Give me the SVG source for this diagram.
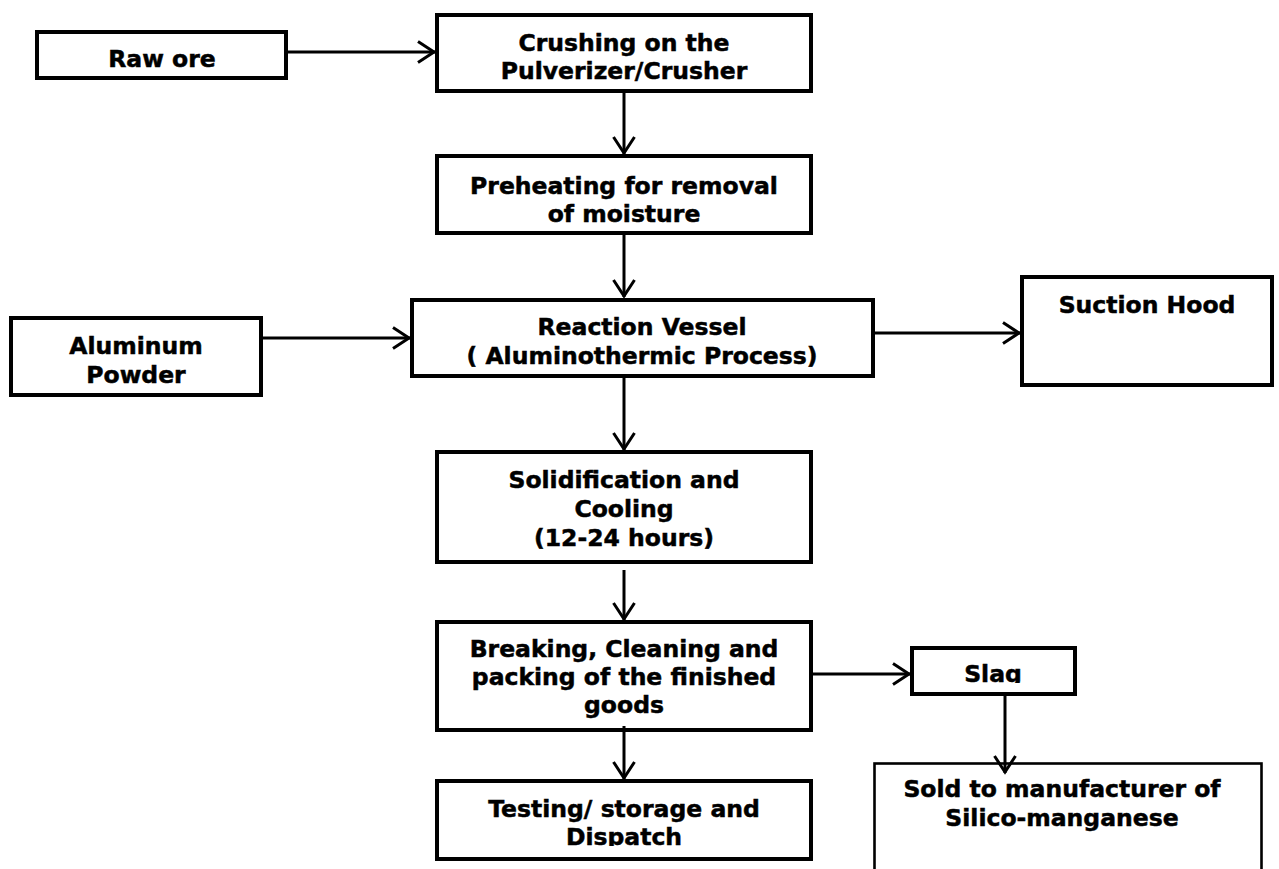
<svg xmlns="http://www.w3.org/2000/svg" width="1279" height="869" viewBox="0 0 1279 869">
<style>
.box{fill:#fff;stroke:#000;stroke-width:4}
.thin{fill:#fff;stroke:#000;stroke-width:2.6}
.t{font-family:"DejaVu Sans",Verdana,sans-serif;font-weight:bold;font-size:23.5px;fill:#000;stroke:#000;stroke-width:0.5;text-anchor:middle}
.c{fill:none;stroke:#000;stroke-width:3}
</style>
<defs>
<marker id="ah" markerUnits="userSpaceOnUse" viewBox="-22 -14 24 28" markerWidth="24" markerHeight="28" refX="0" refY="0" orient="auto">
<path d="M-17,-10.5 L-1,0 L-17,10.5" fill="none" stroke="#000" stroke-width="3"/>
</marker>
<clipPath id="clipTest"><rect x="437" y="781" width="374" height="65"/></clipPath>
<clipPath id="clipSlag"><rect x="912" y="648" width="163" height="35"/></clipPath>
</defs>
<g id="raw-ore">
<rect class="box" x="37" y="32" width="249" height="46"/>
<text class="t" x="162" y="67">Raw ore</text>
</g>
<g id="crushing">
<rect class="box" x="437" y="15" width="374" height="76"/>
<text class="t" x="624" y="51">Crushing on the</text>
<text class="t" x="624" y="79">Pulverizer/Crusher</text>
</g>
<g id="preheating">
<rect class="box" x="437" y="156" width="374" height="77"/>
<text class="t" x="624" y="194">Preheating for removal</text>
<text class="t" x="624" y="222">of moisture</text>
</g>
<g id="aluminum-powder">
<rect class="box" x="11" y="318" width="250" height="77"/>
<text class="t" x="136" y="354">Aluminum</text>
<text class="t" x="136" y="383">Powder</text>
</g>
<g id="reaction-vessel">
<rect class="box" x="412" y="300" width="461" height="76"/>
<text class="t" x="642" y="335">Reaction Vessel</text>
<text class="t" x="642" y="364">( Aluminothermic Process)</text>
</g>
<g id="suction-hood">
<rect class="box" x="1022" y="277" width="250" height="108"/>
<text class="t" x="1147" y="313">Suction Hood</text>
</g>
<g id="solidification">
<rect class="box" x="437" y="452" width="374" height="110"/>
<text class="t" x="624" y="488">Solidification and</text>
<text class="t" x="624" y="517">Cooling</text>
<text class="t" x="624" y="546">(12-24 hours)</text>
</g>
<g id="breaking">
<rect class="box" x="437" y="622" width="374" height="108"/>
<text class="t" x="624" y="657">Breaking, Cleaning and</text>
<text class="t" x="624" y="685">packing of the finished</text>
<text class="t" x="624" y="713">goods</text>
</g>
<g id="testing">
<rect class="box" x="437" y="781" width="374" height="78"/>
<g clip-path="url(#clipTest)">
<text class="t" x="624" y="817">Testing/ storage and</text>
<text class="t" x="624" y="845">Dispatch</text>
</g>
</g>
<g id="slag">
<rect class="box" x="912" y="648" width="163" height="46"/>
<g clip-path="url(#clipSlag)">
<text class="t" x="993" y="682">Slag</text>
</g>
</g>
<g id="sold">
<rect class="thin" x="874.5" y="763.5" width="387" height="120"/>
<text class="t" x="1062" y="797">Sold to manufacturer of</text>
<text class="t" x="1062" y="826">Silico-manganese</text>
</g>
<g id="connectors">
<line class="c" x1="288" y1="52" x2="435" y2="52" marker-end="url(#ah)"/>
<line class="c" x1="624" y1="93" x2="624" y2="154" marker-end="url(#ah)"/>
<line class="c" x1="624" y1="235" x2="624" y2="297" marker-end="url(#ah)"/>
<line class="c" x1="263" y1="338" x2="410" y2="338" marker-end="url(#ah)"/>
<line class="c" x1="871" y1="333" x2="1020" y2="333" marker-end="url(#ah)"/>
<line class="c" x1="624" y1="378" x2="624" y2="450" marker-end="url(#ah)"/>
<line class="c" x1="624" y1="570" x2="624" y2="620" marker-end="url(#ah)"/>
<line class="c" x1="813" y1="674" x2="910" y2="674" marker-end="url(#ah)"/>
<line class="c" x1="624" y1="726" x2="624" y2="779" marker-end="url(#ah)"/>
<line class="c" x1="1005" y1="694" x2="1005" y2="773" marker-end="url(#ah)"/>
</g>
</svg>
